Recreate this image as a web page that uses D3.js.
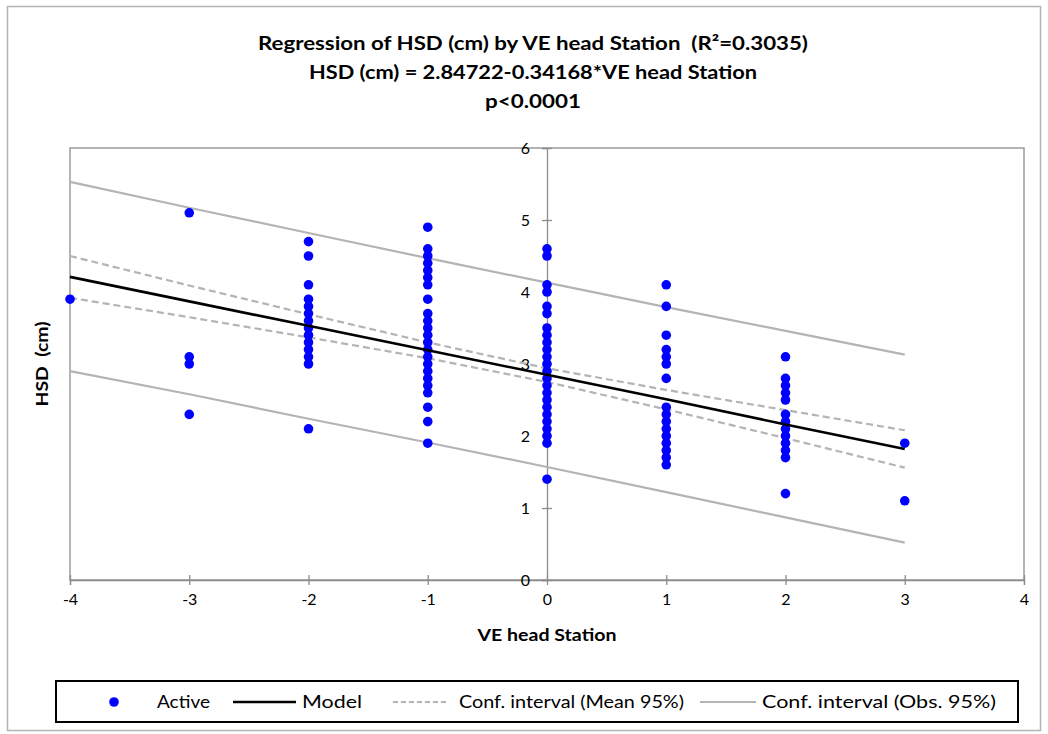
<!DOCTYPE html>
<html>
<head>
<meta charset="utf-8">
<script src="https://cdn.jsdelivr.net/npm/d3@7"></script>
<style>
  html, body { margin: 0; padding: 0; background: #fff; }
  svg { display: block; font-family: Lato, "Liberation Sans", sans-serif; }
  text { white-space: pre; }
</style>
</head>
<body>
<svg id="chart" width="1048" height="734"></svg>
<script>
// ---------- data ----------
const stations = [-4, -3, -2, -1, 0, 1, 2, 3];
const hsdByStation = [
  [3.9],
  [5.1, 3.1, 3.0, 2.3],
  [4.7, 4.5, 4.1, 3.9, 3.8, 3.7, 3.6, 3.5, 3.4, 3.3, 3.2, 3.1, 3.0, 2.1],
  [4.9, 4.6, 4.5, 4.4, 4.3, 4.2, 4.1, 3.9, 3.7, 3.6, 3.5, 3.4, 3.3, 3.2, 3.1, 3.0, 2.9, 2.8, 2.7, 2.6, 2.4, 2.2, 1.9],
  [4.6, 4.5, 4.1, 4.0, 3.8, 3.7, 3.5, 3.4, 3.3, 3.2, 3.1, 3.0, 2.9, 2.8, 2.7, 2.6, 2.5, 2.4, 2.3, 2.2, 2.1, 2.0, 1.9, 1.4],
  [4.1, 3.8, 3.4, 3.2, 3.1, 3.0, 2.8, 2.4, 2.3, 2.2, 2.1, 2.0, 1.9, 1.8, 1.7, 1.6],
  [3.1, 2.8, 2.7, 2.6, 2.5, 2.3, 2.2, 2.1, 2.0, 1.9, 1.8, 1.7, 1.2],
  [1.9, 1.1]
];
const modelValues = [4.21, 3.87, 3.53, 3.19, 2.85, 2.51, 2.16, 1.82];
const meanUpper = [4.50, 4.09, 3.69, 3.30, 2.94, 2.64, 2.36, 2.08];
const meanLower = [3.92, 3.65, 3.37, 3.08, 2.75, 2.37, 1.97, 1.56];
const obsUpper  = [5.53, 5.17, 4.82, 4.47, 4.13, 3.79, 3.46, 3.13];
const obsLower  = [2.90, 2.58, 2.24, 1.91, 1.57, 1.22, 0.87, 0.52];
const xTicks = [-4, -3, -2, -1, 0, 1, 2, 3, 4];
const yTicks = [0, 1, 2, 3, 4, 5, 6];
const titleLines = [
  "Regression of HSD (cm) by VE head Station  (R\u00B2=0.3035)",
  "HSD (cm) = 2.84722-0.34168*VE head Station",
  "p<0.0001"
];
const legendLabels = ["Active", "Model", "Conf. interval (Mean 95%)", "Conf. interval (Obs. 95%)"];

// ---------- layout ----------
const svg = d3.select("#chart");
const plot = { left: 70, right: 1024, top: 148, bottom: 580 };
const x = d3.scaleLinear().domain([-4, 4]).range([plot.left, plot.right]);
const y = d3.scaleLinear().domain([0, 6]).range([plot.bottom, plot.top]);
const gridGray = "#8c8c8c";
const ciGray = "#b4b4b4";

// outer chart border
svg.append("rect").attr("x", 7.5).attr("y", 6.5).attr("width", 1033).attr("height", 724)
  .attr("fill", "#fff").attr("stroke", "#b3b3b3").attr("stroke-width", 1.5);

// plot area border
svg.append("rect").attr("x", plot.left).attr("y", plot.top)
  .attr("width", plot.right - plot.left).attr("height", plot.bottom - plot.top)
  .attr("fill", "none").attr("stroke", gridGray).attr("stroke-width", 1.3);

// x axis at y=0
const xAxis = d3.axisBottom(x).tickValues(xTicks).tickSize(5).tickFormat(d3.format("d"));
const gx = svg.append("g").attr("transform", `translate(0,${y(0)})`).call(xAxis);
gx.select(".domain").attr("stroke", gridGray).attr("stroke-width", 1.3);
gx.selectAll(".tick line").attr("stroke", gridGray).attr("stroke-width", 1.3).attr("y1", -5).attr("y2", 5);
gx.selectAll(".tick text").attr("y", 20).attr("dy", "0.32em")
  .attr("font-size", 16).attr("font-family", "Lato, sans-serif").attr("fill", "#000")
  .text(d => d < 0 ? "-" + Math.abs(d) : d);

// y axis at x=0
const yAxis = d3.axisLeft(y).tickValues(yTicks).tickSize(5).tickFormat(d3.format("d"));
const gy = svg.append("g").attr("transform", `translate(${x(0)},0)`).call(yAxis);
gy.select(".domain").attr("stroke", gridGray).attr("stroke-width", 1.3);
gy.selectAll(".tick line").attr("stroke", gridGray).attr("stroke-width", 1.3).attr("x1", -5).attr("x2", 5);
gy.selectAll(".tick text").attr("x", -17).attr("dy", "0.36em")
  .attr("font-size", 16).attr("font-family", "Lato, sans-serif").attr("fill", "#000");

// lines
const lineGen = d3.line().x((d, i) => x(stations[i])).y(d => y(d));
const addLine = (vals, color, width, dash) => {
  const p = svg.append("path").datum(vals).attr("d", lineGen)
    .attr("fill", "none").attr("stroke", color).attr("stroke-width", width);
  if (dash) p.attr("stroke-dasharray", dash);
};
addLine(obsUpper, ciGray, 2.2);
addLine(obsLower, ciGray, 2.2);
addLine(meanUpper, ciGray, 2.2, "7,4");
addLine(meanLower, ciGray, 2.2, "7,4");

// points
const points = [];
stations.forEach((s, i) => hsdByStation[i].forEach(v => points.push({ s, v })));
svg.append("g").selectAll("circle").data(points).join("circle")
  .attr("cx", d => x(d.s)).attr("cy", d => y(d.v)).attr("r", 4.8).attr("fill", "#0000ff");

addLine(modelValues, "#000", 2.6);

// titles
const titleY = [50, 79, 108];
const titleW = [550, 448, 96];
titleLines.forEach((t, i) => {
  svg.append("text").attr("x", 533).attr("y", titleY[i]).attr("text-anchor", "middle")
    .attr("font-size", 19).attr("font-weight", "bold")
    .attr("textLength", titleW[i]).attr("lengthAdjust", "spacingAndGlyphs")
    .text(t);
});

// axis titles
svg.append("text").attr("x", 547).attr("y", 641).attr("text-anchor", "middle")
  .attr("font-size", 17).attr("font-weight", "bold")
  .attr("textLength", 139).attr("lengthAdjust", "spacingAndGlyphs").text("VE head Station");
svg.append("text").attr("transform", "translate(48,364) rotate(-90)").attr("text-anchor", "middle")
  .attr("font-size", 17).attr("font-weight", "bold")
  .attr("textLength", 85).attr("lengthAdjust", "spacingAndGlyphs").text("HSD  (cm)");

// legend
const lg = svg.append("g");
lg.append("rect").attr("x", 56).attr("y", 681).attr("width", 962).attr("height", 41)
  .attr("fill", "#fff").attr("stroke", "#000").attr("stroke-width", 2);
const ly = 702;
lg.append("circle").attr("cx", 114).attr("cy", ly).attr("r", 4.8).attr("fill", "#0000ff");
lg.append("line").attr("x1", 233).attr("x2", 296).attr("y1", ly).attr("y2", ly)
  .attr("stroke", "#000").attr("stroke-width", 2.6);
lg.append("line").attr("x1", 393).attr("x2", 449).attr("y1", ly).attr("y2", ly)
  .attr("stroke", ciGray).attr("stroke-width", 2.2).attr("stroke-dasharray", "5,3");
lg.append("line").attr("x1", 700).attr("x2", 756).attr("y1", ly).attr("y2", ly)
  .attr("stroke", ciGray).attr("stroke-width", 2.2);
const legendX = [157, 302, 459, 762];
const legendW = [53, 60, 225, 234];
legendLabels.forEach((t, i) => {
  lg.append("text").attr("x", legendX[i]).attr("y", ly).attr("dy", "0.35em")
    .attr("font-size", 17).attr("textLength", legendW[i]).attr("lengthAdjust", "spacingAndGlyphs")
    .text(t);
});
</script>
</body>
</html>
